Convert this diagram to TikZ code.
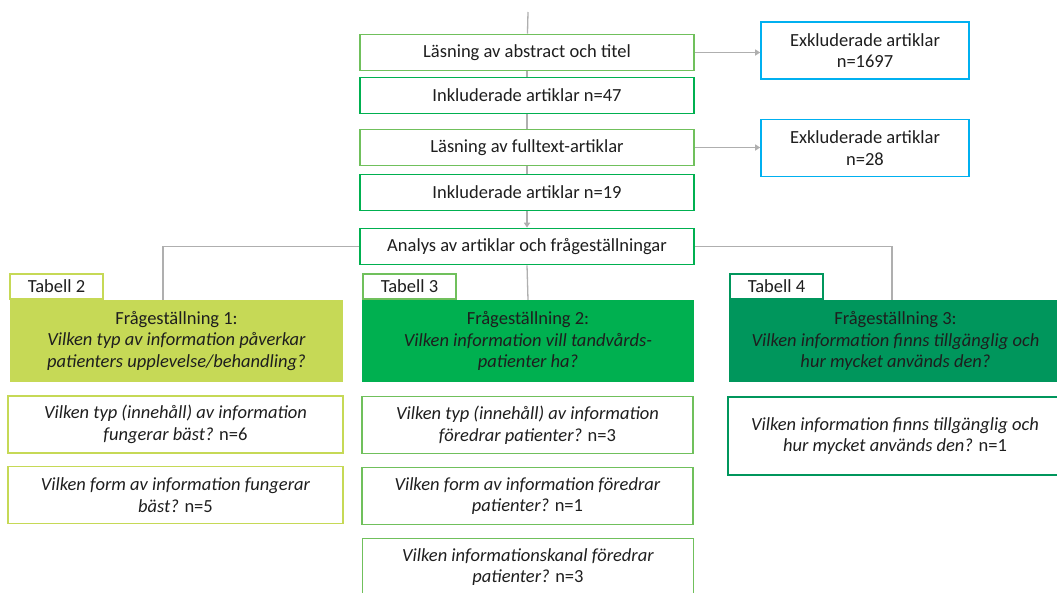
\documentclass[tikz,border=0pt]{standalone}
\usepackage{fontspec}
\setmainfont{Carlito}
\usetikzlibrary{arrows.meta}

\definecolor{paleline}{RGB}{112,192,92}
\definecolor{okgreen}{RGB}{0,176,80}
\definecolor{deepgreen}{RGB}{0,150,92}
\definecolor{limegreen}{RGB}{198,217,86}
\definecolor{exclblue}{RGB}{0,176,240}
\definecolor{linkgray}{RGB}{175,175,175}
\definecolor{inktext}{RGB}{30,30,30}

\begin{document}
\begin{tikzpicture}[
            x=1pt, y=-1pt,
            font=\fontsize{18.5}{21.5}\selectfont, text=inktext,
            box/.style={draw, line width=1.6pt, fill=white, inner sep=0pt, align=center},
            flowbox/.style={box, minimum width=334pt, minimum height=36pt},
            exclbox/.style={box, draw=exclblue, minimum width=208pt, minimum height=57pt},
            tabbox/.style={box, minimum width=93pt, minimum height=25pt},
            qbox/.style={inner sep=0pt, align=center, minimum width=333pt, minimum height=82pt},
            subbox/.style={box, minimum width=334pt, minimum height=57pt},
            link/.style={draw=linkgray, line width=1.3pt},
            arrow/.style={link, -{Triangle[width=6pt, length=5pt]}}
        ]
            \useasboundingbox (0,0) rectangle (1057,592);
            % screening
            \coordinate (top) at (528,12);
            \node[flowbox, draw=paleline] (read1) at (527,52.5) {Läsning av abstract och titel};
            \node[flowbox, draw=okgreen] (incl1) at (527,95.5) {Inkluderade artiklar n=47};
            \node[flowbox, draw=paleline] (read2) at (527,147.5) {Läsning av fulltext-artiklar};
            \node[flowbox, draw=okgreen] (incl2) at (527,192.5) {Inkluderade artiklar n=19};
            \node[flowbox, draw=okgreen] (analys) at (527,246.5) {Analys av artiklar och frågeställningar};
            % excluded
            \node[exclbox] (excl1) at (865,50.5) {Exkluderade artiklar\\n=1697};
            \node[exclbox] (excl2) at (865,148) {Exkluderade artiklar\\n=28};
            % tables
            \node[tabbox, draw=limegreen] (tab2) at (56.5,286.5) {Tabell 2};
            \node[tabbox, draw=paleline] (tab3) at (409.5,286.5) {Tabell 3};
            \node[tabbox, draw=deepgreen] (tab4) at (776.5,286.5) {Tabell 4};
            % questions
            \node[qbox, fill=limegreen] (fq1) at (176.5,341) {Frågeställning 1:\\\textit{Vilken typ av information påverkar}\\\textit{patienters upplevelse/behandling?}};
            \node[qbox, fill=okgreen, minimum width=332pt] (fq2) at (528,341) {Frågeställning 2:\\\textit{Vilken information vill tandvårds-}\\\textit{patienter ha?}};
            \node[qbox, fill=deepgreen] (fq3) at (895.5,341) {Frågeställning 3:\\\textit{Vilken information finns tillgänglig och}\\\textit{hur mycket används den?}};
            % sub questions
            \node[subbox, draw=limegreen, minimum width=335pt] (sub11) at (175.5,424.5) {\textit{Vilken typ (innehåll) av information}\\\textit{fungerar bäst?} n=6};
            \node[subbox, draw=limegreen, minimum width=335pt] (sub12) at (175.5,495) {\textit{Vilken form av information fungerar}\\\textit{bäst?} n=5};
            \node[subbox, draw=paleline, minimum width=331pt] (sub21) at (527.5,425) {\textit{Vilken typ (innehåll) av information}\\\textit{föredrar patienter?} n=3};
            \node[subbox, draw=paleline, minimum width=331pt] (sub22) at (527.5,496) {\textit{Vilken form av information föredrar}\\\textit{patienter?} n=1};
            \node[subbox, draw=paleline, minimum width=331pt] (sub23) at (528,567) {\textit{Vilken informationskanal föredrar}\\\textit{patienter?} n=3};
            \node[subbox, draw=deepgreen, minimum height=78pt] (sub31) at (895,436) {\textit{Vilken information finns tillgänglig och}\\\textit{hur mycket används den?} n=1};
            % lines
            \draw[link] (top) -- (read1);
            \draw[link] (read1) -- (incl1);
            \draw[link] (incl1) -- (read2);
            \draw[link] (read2) -- (incl2);
            \draw[arrow] (incl2) -- (analys);
            \draw[arrow] (read1) -- (excl1.west |- read1);
            \draw[arrow] (read2) -- (excl2.west |- read2);
            \draw[link] (analys.west) -| ([xshift=-13.5pt]fq1.north);
            \draw[link] (analys.south) -- (fq2.north);
            \draw[link] (analys.east) -| ([xshift=-3.5pt]fq3.north);
        \end{tikzpicture}
\end{document}
